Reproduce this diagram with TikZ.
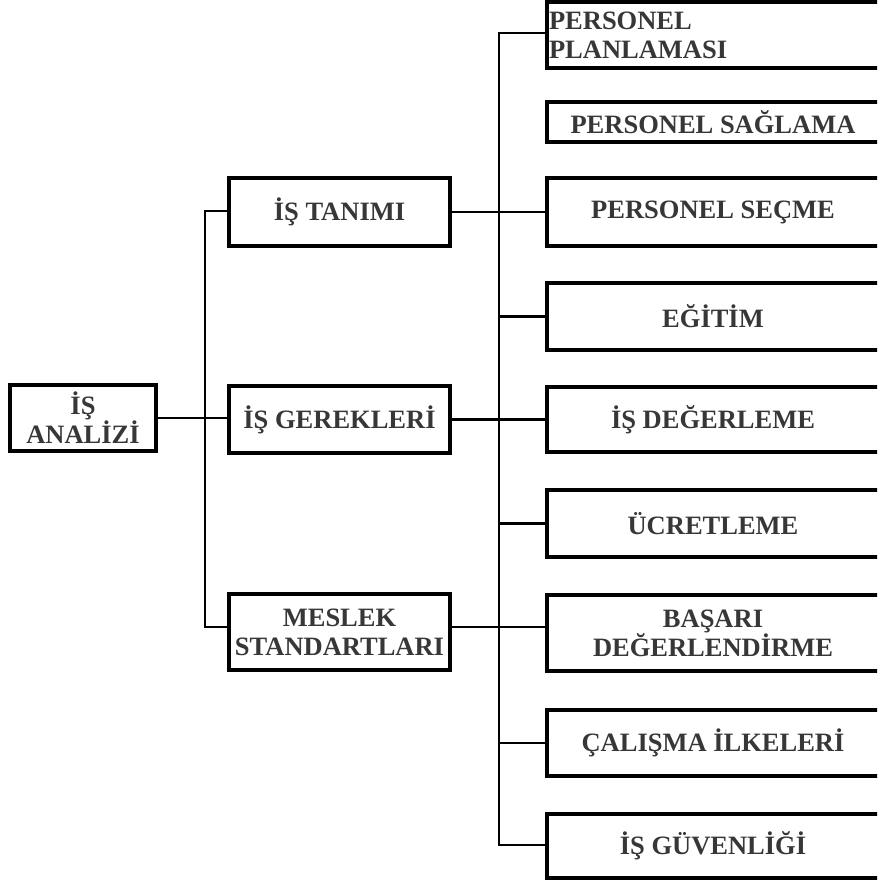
\documentclass[tikz,border=0pt]{standalone}
\usepackage{fontspec}
\setmainfont{Liberation Serif}
\definecolor{txt}{RGB}{55,55,55}
\begin{document}
\begin{tikzpicture}[x=1pt,y=-1pt,
  box/.style={draw=black, line width=4pt, fill=white, inner sep=0pt, align=center,
    font=\fontsize{26.5}{29}\selectfont\bfseries, text=txt},
  lbox/.style={box, minimum width=221pt},
  rbox/.style={box, minimum width=346pt},
  conn/.style={draw=black, line width=2.5pt}]
\useasboundingbox (0,0) rectangle (877,885);
\clip (0,0) rectangle (877,885);
\fill[white] (0,0) rectangle (877,885);
% connectors
\coordinate (lt) at (205,211);
\coordinate (lb) at (205,627);
\coordinate (rt) at (499,33);
\coordinate (rm) at (499,627);
\coordinate (rb) at (499,845);
% left column
\node[box, minimum width=146pt, minimum height=66pt] (ana) at (83,418) {İŞ\\ANALİZİ};
\node[lbox, minimum height=68pt] (tan) at (339.5,212) {İŞ TANIMI};
\node[lbox, minimum height=67pt] (ger) at (339.5,419.5) {İŞ GEREKLERİ};
\node[lbox, minimum height=76pt] (mes) at (339.5,632) {MESLEK\\STANDARTLARI};
% right column
\node[rbox, minimum height=66pt, text width=342pt, align=left] (pla) at (720,35) {PERSONEL\\PLANLAMASI\\[2pt]};
\node[rbox, minimum height=40pt] (sag) at (720,122) {PERSONEL SAĞLAMA\hspace*{14pt}};
\node[rbox, minimum height=68pt] (sec) at (720,212) {PERSONEL SEÇME\hspace*{14pt}};
\node[rbox, minimum height=67pt] (egi) at (720,316.5) {EĞİTİM\hspace*{14pt}};
\node[rbox, minimum height=65pt] (deg) at (720,419.5) {İŞ DEĞERLEME\hspace*{14pt}};
\node[rbox, minimum height=67pt] (ucr) at (720,523.5) {ÜCRETLEME\hspace*{14pt}};
\node[rbox, minimum height=76pt] (bas) at (720,633) {BAŞARI\hspace*{14pt}\\DEĞERLENDİRME\hspace*{14pt}};
\node[rbox, minimum height=66pt] (cal) at (720,743) {ÇALIŞMA İLKELERİ\hspace*{14pt}};
\node[rbox, minimum height=64pt] (guv) at (720,846) {İŞ GÜVENLİĞİ\hspace*{14pt}};
% left connectors
\draw[conn] (ana.east) -- (ana.east -| ger.west);
\draw[conn] (tan.west |- lt) -- (lt) -- (lb) -- (mes.west |- lb);
% right connectors
\draw[conn] (pla.west |- rt) -- (rt) -- (rb) -- (guv.west |- rb);
\draw[conn] (tan.east) -- (sec.west);
\draw[conn] (ger.east) -- (deg.west);
\draw[conn] (mes.east |- rm) -- (rm) -- (bas.west |- rm);
\draw[conn] (egi.west) -- (egi.west -| rt);
\draw[conn] (ucr.west) -- (ucr.west -| rt);
\draw[conn] (cal.west) -- (cal.west -| rt);
\end{tikzpicture}
\end{document}
